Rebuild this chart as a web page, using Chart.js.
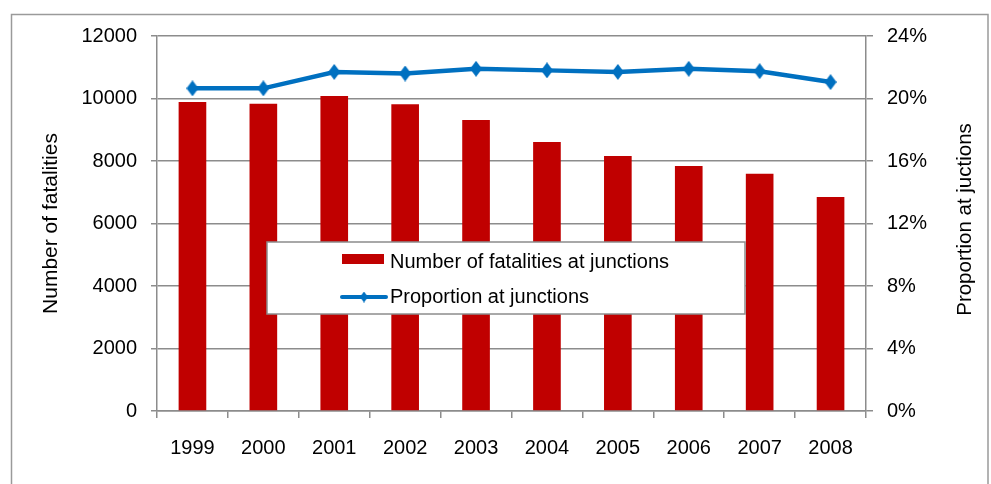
<!DOCTYPE html>
<html>
<head>
<meta charset="utf-8">
<script src="https://cdn.jsdelivr.net/npm/chart.js@4/dist/chart.umd.min.js"></script>
<style>
  html, body { margin: 0; padding: 0; background: #fff; }
  #wrap { width: 991px; height: 484px; position: relative; }
</style>
</head>
<body>
<div id="wrap"><canvas id="c" width="991" height="484"></canvas></div>
<script>
// Road fatalities at junctions, 1999-2008
const years = ['1999', '2000', '2001', '2002', '2003', '2004', '2005', '2006', '2007', '2008'];
const fatalities = [9890, 9830, 10080, 9820, 9310, 8610, 8160, 7840, 7590, 6850];
const proportion = [20.65, 20.65, 21.7, 21.6, 21.9, 21.8, 21.7, 21.9, 21.75, 21.05];
const leftTicks = [0, 2000, 4000, 6000, 8000, 10000, 12000];
const rightTicks = [0, 4, 8, 12, 16, 20, 24];
const rightTitle = 'Proportion at juctions';

const FONT = "'Liberation Sans', Arial, sans-serif";
const RED = '#C00000';
const BLUE = '#0070C0';
const GRID = '#8C8C8C';

// Tall diamond marker for the proportion line
function diamond(w, h, color) {
  const c = document.createElement('canvas');
  c.width = w; c.height = h;
  const g = c.getContext('2d');
  g.fillStyle = color;
  g.beginPath();
  g.moveTo(w / 2, 0);
  g.lineTo(w, h / 2);
  g.lineTo(w / 2, h);
  g.lineTo(0, h / 2);
  g.closePath();
  g.fill();
  return c;
}
const marker = diamond(12, 16, BLUE);
const legendMarker = diamond(8, 11, BLUE);

// Outer frame around the whole figure
const framePlugin = {
  id: 'frame',
  beforeDraw(chart) {
    const ctx = chart.ctx;
    ctx.save();
    ctx.fillStyle = '#fff';
    ctx.fillRect(0, 0, chart.width, chart.height);
    ctx.strokeStyle = '#9A9A9A';
    ctx.lineWidth = 1.5;
    ctx.strokeRect(11.5, 14.5, 976.5, 500);
    ctx.restore();
  }
};

// Right-hand axis title, read bottom to top like the left one
const rightTitlePlugin = {
  id: 'rightTitle',
  afterDraw(chart) {
    const ctx = chart.ctx;
    const a = chart.chartArea;
    ctx.save();
    ctx.translate(965, (a.top + a.bottom) / 2 - 4);
    ctx.rotate(-Math.PI / 2);
    ctx.font = '20.5px ' + FONT;
    ctx.fillStyle = '#000';
    ctx.textAlign = 'center';
    ctx.textBaseline = 'middle';
    ctx.fillText(rightTitle, 0, 0);
    ctx.restore();
  }
};

// Boxed legend sitting inside the plot area
const boxLegend = {
  id: 'boxLegend',
  afterDraw(chart) {
    const ctx = chart.ctx;
    const ds = chart.data.datasets;
    const bar = ds.find(d => d.type === 'bar');
    const line = ds.find(d => d.type === 'line');
    ctx.save();
    ctx.fillStyle = '#fff';
    ctx.fillRect(267, 242, 478, 72);
    ctx.strokeStyle = '#8C8C8C';
    ctx.lineWidth = 1.5;
    ctx.strokeRect(267, 242, 478, 72);

    ctx.font = '20px ' + FONT;
    ctx.textBaseline = 'middle';
    ctx.textAlign = 'left';

    // bar entry
    ctx.fillStyle = bar.backgroundColor;
    ctx.fillRect(342, 254, 42, 10);
    ctx.fillStyle = '#000';
    ctx.fillText(bar.label, 390, 262);

    // line entry
    ctx.strokeStyle = line.borderColor;
    ctx.lineWidth = 4;
    ctx.lineCap = 'round';
    ctx.beginPath();
    ctx.moveTo(342, 297);
    ctx.lineTo(386, 297);
    ctx.stroke();
    ctx.drawImage(legendMarker, 364 - 4, 297 - 5.5);
    ctx.fillStyle = '#000';
    ctx.fillText(line.label, 390, 297);
    ctx.restore();
  }
};

new Chart(document.getElementById('c'), {
  type: 'bar',
  data: {
    labels: years,
    datasets: [
      {
        type: 'line',
        label: 'Proportion at junctions',
        data: proportion,
        yAxisID: 'y1',
        borderColor: BLUE,
        backgroundColor: BLUE,
        borderWidth: 4.5,
        pointStyle: marker,
        pointRadius: 8,
        tension: 0,
        order: 0
      },
      {
        type: 'bar',
        label: 'Number of fatalities at junctions',
        data: fatalities,
        yAxisID: 'y',
        backgroundColor: RED,
        borderWidth: 0,
        barPercentage: 0.39,
        categoryPercentage: 1.0,
        order: 1
      }
    ]
  },
  options: {
    responsive: false,
    animation: false,
    devicePixelRatio: 1,
    layout: { padding: { left: 0, right: 0, top: 36, bottom: 0 } },
    plugins: {
      legend: { display: false },
      tooltip: { enabled: false }
    },
    scales: {
      x: {
        offset: true,
        grid: {
          offset: true,
          drawOnChartArea: false,
          drawTicks: true,
          tickLength: 7,
          color: GRID,
          lineWidth: 1.5
        },
        border: { color: GRID, width: 1.5 },
        ticks: {
          font: { family: FONT, size: 20 },
          color: '#000',
          padding: 18,
          maxRotation: 0
        },
        afterFit(s) { s.height = 73; }
      },
      y: {
        position: 'left',
        min: 0,
        max: 12000,
        afterBuildTicks(s) { s.ticks = leftTicks.map(v => ({ value: v })); },
        grid: { color: GRID, lineWidth: 1.5, tickLength: 6 },
        border: { color: GRID, width: 1.5 },
        ticks: {
          font: { family: FONT, size: 20 },
          color: '#000',
          padding: 14,
          callback: v => String(v)
        },
        title: {
          display: true,
          text: 'Number of fatalities',
          font: { family: FONT, size: 21 },
          color: '#000',
          padding: { top: 39, bottom: 0 }
        },
        afterFit(s) { s.width = 157; }
      },
      y1: {
        position: 'right',
        min: 0,
        max: 24,
        afterBuildTicks(s) { s.ticks = rightTicks.map(v => ({ value: v })); },
        grid: { drawOnChartArea: false, color: GRID, lineWidth: 1.5, tickLength: 7 },
        border: { color: GRID, width: 1.5 },
        ticks: {
          font: { family: FONT, size: 20 },
          color: '#000',
          padding: 14,
          callback: v => v + '%'
        },
        afterFit(s) { s.width = 125; }
      }
    }
  },
  plugins: [framePlugin, rightTitlePlugin, boxLegend]
});
</script>
</body>
</html>
